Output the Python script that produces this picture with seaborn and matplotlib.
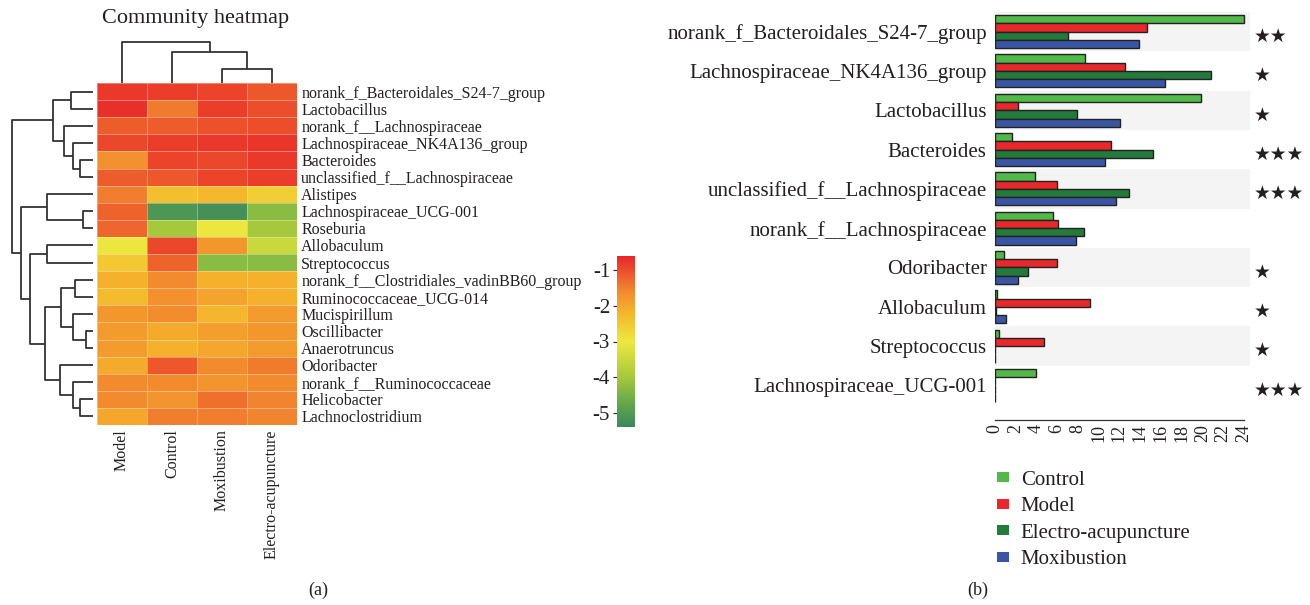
import numpy as np
import pandas as pd
import matplotlib
matplotlib.use('Agg')
import matplotlib.pyplot as plt
import seaborn as sns
from matplotlib.colors import LinearSegmentedColormap
from matplotlib.patches import Patch

# heatmap data (log10 relative abundance)
hm_cols = ['Model', 'Control', 'Moxibustion', 'Electro-acupuncture']
hm_rows = ['norank_f_Bacteroidales_S24-7_group', 'Lactobacillus', 'norank_f__Lachnospiraceae',
           'Lachnospiraceae_NK4A136_group', 'Bacteroides', 'unclassified_f__Lachnospiraceae',
           'Alistipes', 'Lachnospiraceae_UCG-001', 'Roseburia', 'Allobaculum', 'Streptococcus',
           'norank_f__Clostridiales_vadinBB60_group', 'Ruminococcaceae_UCG-014', 'Mucispirillum',
           'Oscillibacter', 'Anaerotruncus', 'Odoribacter', 'norank_f__Ruminococcaceae',
           'Helicobacter', 'Lachnoclostridium']
hm_model = [-0.8, -0.7, -1.15, -0.95, -1.7, -1.15, -1.5, -1.2, -1.25, -3.0,
            -2.5, -2.15, -2.3, -1.8, -1.85, -1.85, -2.05, -1.6, -1.6, -2.0]
hm_control = [-0.85, -1.45, -1.15, -0.85, -0.9, -1.1, -2.35, -5.1, -4.0, -0.95,
              -1.2, -1.6, -1.7, -1.65, -2.05, -2.15, -1.1, -1.6, -1.75, -1.5]
hm_mox = [-0.9, -0.85, -1.05, -0.8, -0.95, -0.9, -2.25, -5.2, -3.0, -1.8,
          -4.3, -2.15, -1.95, -2.2, -1.9, -2.0, -1.6, -1.75, -1.35, -1.5]
hm_ea = [-1.1, -1.0, -1.0, -0.75, -0.8, -0.85, -2.6, -4.3, -4.0, -3.5,
         -4.3, -2.15, -2.15, -1.85, -1.8, -1.85, -1.45, -1.6, -1.55, -1.55]

# dendrogram merges: (child a, child b, height); ids >= n are earlier merges
row_links = [(14, 15, 7), (7, 8, 10), (4, 5, 13), (18, 19, 13), (11, 12, 18),
             (3, 22, 20), (13, 20, 20), (17, 23, 20), (0, 1, 22), (2, 25, 29),
             (24, 26, 32), (16, 27, 33), (28, 29, 40), (6, 21, 46), (9, 10, 46),
             (30, 31, 48), (34, 35, 63), (33, 36, 72), (32, 37, 81)]
col_links = [(2, 3, 14), (1, 4, 31), (0, 5, 41)]

# bar chart data (relative abundance, %)
bar_genera = ['norank_f_Bacteroidales_S24-7_group', 'Lachnospiraceae_NK4A136_group',
              'Lactobacillus', 'Bacteroides', 'unclassified_f__Lachnospiraceae',
              'norank_f__Lachnospiraceae', 'Odoribacter', 'Allobaculum', 'Streptococcus',
              'Lachnospiraceae_UCG-001']
groups = ['Control', 'Model', 'Electro-acupuncture', 'Moxibustion']
control = [24.0, 8.7, 19.9, 1.6, 3.9, 5.6, 0.9, 0.16, 0.35, 4.0]
model = [14.7, 12.5, 2.25, 11.2, 6.0, 6.05, 6.0, 9.2, 4.75, 0.03]
electro = [7.0, 20.8, 7.9, 15.2, 12.9, 8.55, 3.2, 0.1, 0.02, 0.0]
moxi = [13.9, 16.4, 12.1, 10.6, 11.7, 7.8, 2.2, 1.1, 0.02, 0.0]
stars = ['★★', '★', '★', '★★★', '★★★', '', '★', '★', '★', '★★★']

group_colors = ['#52b848', '#e8282a', '#237a3a', '#3a55a4']
txt = '#231f20'

sns.set_style('white')
plt.rcParams['font.family'] = ['Liberation Serif', 'DejaVu Sans']
plt.rcParams['text.color'] = txt
plt.rcParams['xtick.color'] = txt
plt.rcParams['ytick.color'] = txt

W, H = 1310, 605
fig = plt.figure(figsize=(W / 100, H / 100), dpi=100)


def box(x0, y0, x1, y1):
    return [x0 / W, 1 - y1 / H, (x1 - x0) / W, (y1 - y0) / H]


def dendro(ax, links, n, vertical):
    pos = {i: i + 0.5 for i in range(n)}
    hgt = {i: 0.0 for i in range(n)}
    for k, (a, b, h) in enumerate(links):
        xs = [pos[a], pos[a], pos[b], pos[b]]
        ys = [hgt[a], h, h, hgt[b]]
        if vertical:
            ax.plot(xs, ys, color='#333333', lw=1.3, solid_capstyle='butt', clip_on=False)
        else:
            ax.plot(ys, xs, color='#333333', lw=1.3, solid_capstyle='butt', clip_on=False)
        pos[n + k] = (pos[a] + pos[b]) / 2
        hgt[n + k] = h
    ax.axis('off')


# ---- (a) heatmap ----
hm = pd.DataFrame({'Model': hm_model, 'Control': hm_control,
                   'Moxibustion': hm_mox, 'Electro-acupuncture': hm_ea}, index=hm_rows)[hm_cols]

cmap = LinearSegmentedColormap.from_list('comm', [
    (0.0, '#3a875c'), (0.8 / 4.8, '#6fae48'), (1.4 / 4.8, '#a6c83c'),
    (2.4 / 4.8, '#ece83e'), (3.2 / 4.8, '#f5b52c'), (3.8 / 4.8, '#f28a2e'),
    (1.0, '#e8262a')])

ax_hm = fig.add_axes(box(97, 83, 297, 425))
cax = fig.add_axes(box(617, 256, 635, 427))
sns.heatmap(hm, ax=ax_hm, cmap=cmap, vmin=-5.4, vmax=-0.6, cbar_ax=cax,
            linewidths=0.6, linecolor=(1, 1, 1, 0.35))
ax_hm.yaxis.tick_right()
ax_hm.set_yticks(np.arange(len(hm_rows)) + 0.5)
ax_hm.set_yticklabels(hm_rows, rotation=0, ha='left', fontsize=11.5)
ax_hm.set_xticklabels(hm_cols, rotation=90, fontsize=11.5)
ax_hm.tick_params(length=0, pad=3)
ax_hm.set_xlabel('')
ax_hm.set_ylabel('')

cbar = ax_hm.collections[0].colorbar
cbar.outline.set_visible(False)
cax.yaxis.set_ticks_position('left')
cax.set_yticks([-1, -2, -3, -4, -5])
cax.tick_params(labelsize=15, length=3, width=0.8, pad=2)
cax.set_yticklabels(['-1', '-2', '-3', '-4', '-5'])

ax_rd = fig.add_axes(box(5, 83, 95, 425))
ax_rd.set_ylim(len(hm_rows), 0)
ax_rd.set_xlim(88, -2)
dendro(ax_rd, row_links, len(hm_rows), vertical=False)

ax_cd = fig.add_axes(box(97, 35, 297, 83))
ax_cd.set_xlim(0, len(hm_cols))
ax_cd.set_ylim(0, 48)
dendro(ax_cd, col_links, len(hm_cols), vertical=True)

fig.text(196 / W, 1 - 18 / H, 'Community heatmap', ha='center', va='center', fontsize=16)

# ---- (b) bar chart ----
df = pd.DataFrame({'genus': np.repeat(bar_genera, 4),
                   'group': groups * len(bar_genera),
                   'value': np.ravel(np.column_stack([control, model, electro, moxi]))})

ax_b = fig.add_axes(box(995, 12, 1250, 420))
for i in range(0, len(bar_genera), 2):
    ax_b.axhspan(i - 0.5, i + 0.5, color='#f4f4f4', zorder=0, lw=0)
sns.barplot(data=df, x='value', y='genus', hue='group', hue_order=groups,
            palette=group_colors, saturation=1, orient='h', width=0.84,
            edgecolor='#222222', linewidth=1.0, ax=ax_b, legend=False, zorder=2)
ax_b.set_xlim(0, 24.6)
ax_b.set_ylim(9.88, -0.5)
ax_b.set_xticks(range(0, 25, 2))
ax_b.tick_params(axis='x', direction='in', length=4, width=0.8, labelrotation=90,
                 labelsize=13, pad=3)
ax_b.tick_params(axis='y', length=0, labelsize=15, pad=6)
ax_b.set_xlabel('')
ax_b.set_ylabel('')
for s in ['top', 'right', 'left']:
    ax_b.spines[s].set_visible(False)
ax_b.spines['bottom'].set_bounds(0, 24)
ax_b.spines['bottom'].set_color('#333333')
ax_b.spines['bottom'].set_linewidth(0.9)

for i, s in enumerate(stars):
    ax_b.text(24.95, i + 0.12, s, ha='left', va='center', fontsize=13.5,
              family='DejaVu Sans', clip_on=False, color='#231f20')

handles = [Patch(facecolor=c, edgecolor='none', label=g) for c, g in zip(group_colors, groups)]
fig.legend(handles=handles, loc='upper left', bbox_to_anchor=(978 / W, 1 - 452 / H),
           frameon=False, fontsize=15, handlelength=0.6, handleheight=0.35,
           handletextpad=0.55, labelspacing=0.36)

fig.text(318 / W, 1 - 590 / H, '(a)', ha='center', va='center', fontsize=13)
fig.text(978 / W, 1 - 590 / H, '(b)', ha='center', va='center', fontsize=13)

fig.savefig('out.png', dpi=100)
